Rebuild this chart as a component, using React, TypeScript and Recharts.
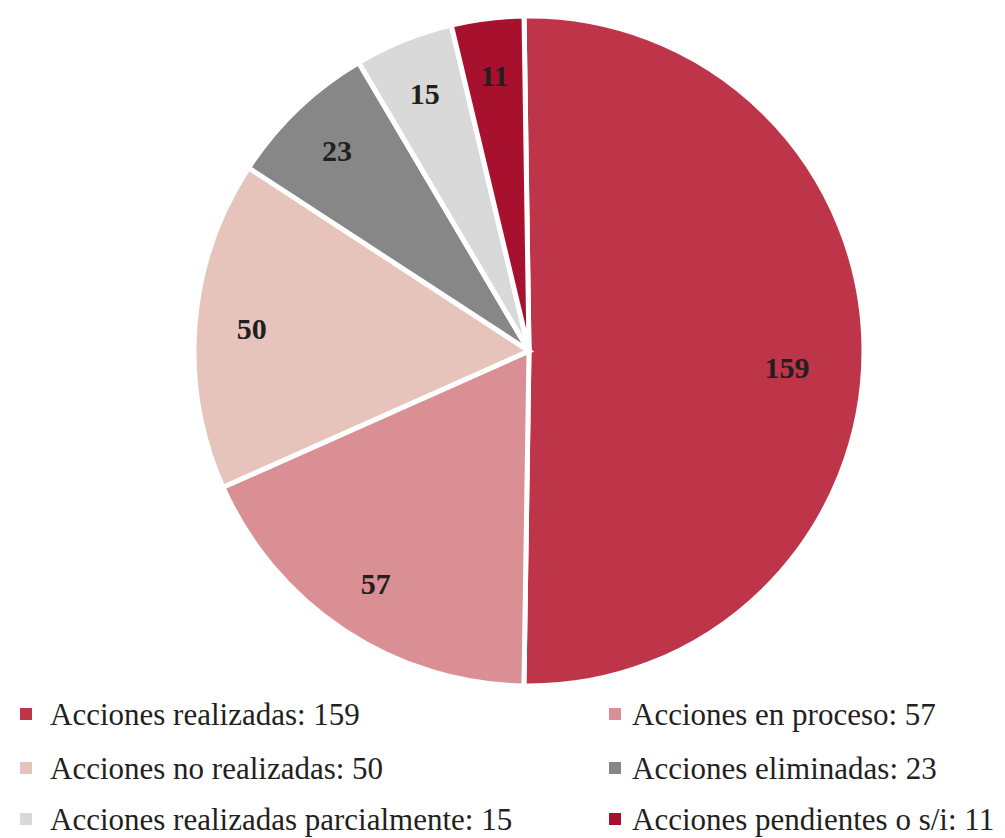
import React from "react";
import { PieChart, Pie, Cell } from "recharts";

const categories = [
  "Acciones realizadas",
  "Acciones en proceso",
  "Acciones no realizadas",
  "Acciones eliminadas",
  "Acciones realizadas parcialmente",
  "Acciones pendientes o s/i",
];
const values = [159, 57, 50, 23, 15, 11];
const colors = ["#BE3549", "#D98F93", "#E6C4BB", "#878787", "#D9D9D9", "#A8112E"];

const data = categories.map((name, i) => ({ name, value: values[i] }));

const FONT = "'Liberation Serif', 'DejaVu Serif', serif";
const RAD = Math.PI / 180;

const renderLabel = (props: any) => {
  const { cx, cy, midAngle, outerRadius, value, percent } = props;
  const big = percent > 0.4;
  const r = outerRadius * (big ? 0.77 : 0.83);
  const x = cx + r * Math.cos(-midAngle * RAD);
  const y = cy + r * Math.sin(-midAngle * RAD) + (big ? 16 : 0);
  return (
    <text
      x={x}
      y={y}
      fill="#231F20"
      textAnchor="middle"
      dominantBaseline="central"
      style={{ fontFamily: FONT, fontWeight: 700, fontSize: 30 }}
    >
      {value}
    </text>
  );
};

export default function App() {
  const legendRows = [
    [0, 1],
    [2, 3],
    [4, 5],
  ];
  const baseY = [725, 779, 830];
  const markerX = [20, 609];
  const textX = [50, 632];
  return (
    <div style={{ position: "absolute", left: 0, top: 0, width: 1005, height: 838, background: "#fff", overflow: "hidden" }}>
      <PieChart
        width={1005}
        height={700}
        margin={{ top: 0, right: 0, bottom: 0, left: 0 }}
        style={{ position: "absolute", left: 0, top: 0 }}
      >
        <Pie
          data={data}
          dataKey="value"
          nameKey="name"
          cx={529}
          cy={351}
          outerRadius={335}
          startAngle={90.85}
          endAngle={-269.15}
          stroke="#ffffff"
          strokeWidth={5}
          label={renderLabel}
          labelLine={false}
          isAnimationActive={false}
        >
          {data.map((d, i) => (
            <Cell key={d.name} fill={colors[i]} />
          ))}
        </Pie>
      </PieChart>
      {legendRows.map((row, ri) =>
        row.map((idx, ci) => (
          <React.Fragment key={idx}>
            <div
              style={{
                position: "absolute",
                left: markerX[ci],
                top: baseY[ri] - 17,
                width: 12,
                height: 12,
                background: colors[idx],
              }}
            />
            <div
              style={{
                position: "absolute",
                left: textX[ci],
                top: baseY[ri] - 26,
                fontFamily: FONT,
                fontSize: 31,
                lineHeight: "32px",
                color: "#231F20",
                whiteSpace: "nowrap",
              }}
            >
              {`${categories[idx]}: ${values[idx]}`}
            </div>
          </React.Fragment>
        ))
      )}
    </div>
  );
}
